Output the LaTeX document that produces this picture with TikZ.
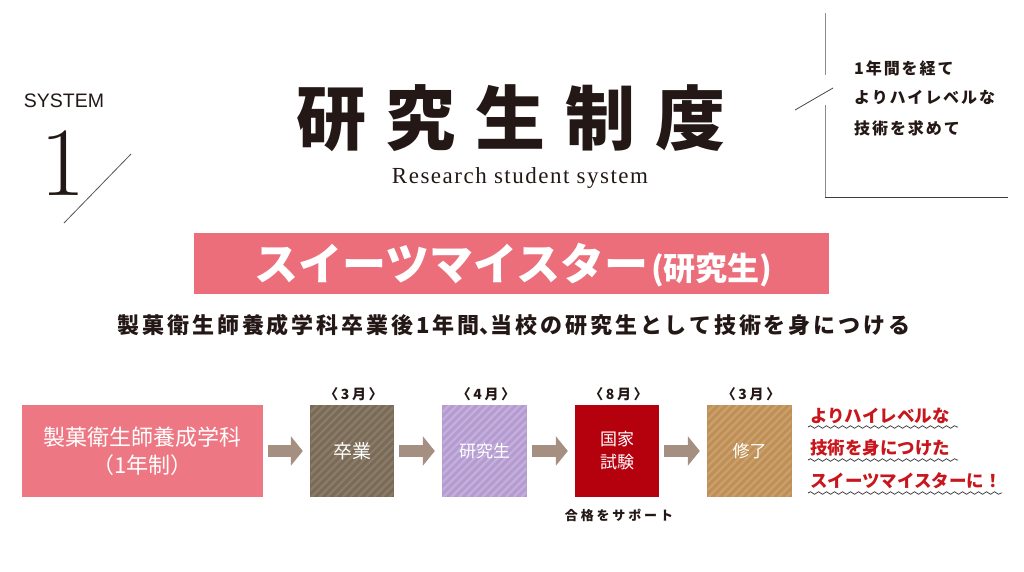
\documentclass[tikz,border=0pt]{standalone}
\usepackage{fontspec}
\newfontfamily\jp{Noto Sans CJK JP}
\newfontfamily\lsans{Liberation Sans}
\newfontfamily\lserif{Liberation Serif}[LetterSpace=6.5]
\usetikzlibrary{arrows.meta,decorations.pathmorphing,calc}
\definecolor{ink}{HTML}{231815}
\definecolor{pinkbox}{HTML}{ED7782}
\definecolor{banner}{HTML}{EB6E7A}
\definecolor{brownbase}{HTML}{7A6A58}
\definecolor{brownstripe}{HTML}{8B7B69}
\definecolor{lavbase}{HTML}{B59CD0}
\definecolor{lavstripe}{HTML}{C5AFDC}
\definecolor{exred}{HTML}{B5000E}
\definecolor{ochrebase}{HTML}{BE9058}
\definecolor{ochrestripe}{HTML}{CCA06A}
\definecolor{taupe}{HTML}{A58F80}
\definecolor{redtext}{HTML}{C8161D}
\definecolor{linegray}{HTML}{8A8A8A}
\definecolor{wavecol}{HTML}{333333}
\tikzset{
  flowbox/.style={draw=none, inner sep=0pt, minimum height=92pt, text=white, align=center},
  striped/.style 2 args={fill=#1, path picture={
      \clip ($(path picture bounding box.south west)+(0.7,-0.7)$) rectangle ($(path picture bounding box.north east)+(-0.7,0.7)$);
      \foreach \i in {0,...,26}{
        \draw[#2, line width=2.2pt] ($(path picture bounding box.south west)+(\i*7.8-100,0)$) -- ++(110,-110);
      }}},
  monthlab/.style={font=\jp\bfseries\fontsize{14}{14}\selectfont\addfontfeature{LetterSpace=18}, text=ink, inner sep=0pt, anchor=base},
  flowarrow/.style={draw=taupe, line width=12pt, -{Triangle[length=12pt,width=29pt]}, shorten <=5pt, shorten >=7pt},
  redline/.style={font=\jp\bfseries\fontsize{17.5}{17.5}\selectfont, text=redtext, inner sep=0pt, anchor=base west},
  wavy/.style={draw=wavecol, line width=0.7pt, decorate, decoration={snake, segment length=8pt, amplitude=1.3pt}},
  rtext/.style={font=\jp\bfseries\fontsize{16}{16}\selectfont\addfontfeature{LetterSpace=12}, text=ink, inner sep=0pt, anchor=base west}
}
\begin{document}
\begin{tikzpicture}[x=1pt,y=-1pt]
\useasboundingbox (0,0) rectangle (1024,571);

% left header
\node[font=\lsans\fontsize{19.5}{19.5}\selectfont, text=ink, inner sep=0pt, anchor=base] (sys) at (64,107.5) {SYSTEM};
\node[font=\fontsize{98}{98}\selectfont, text=ink, inner sep=0pt, text height=64pt, text depth=0pt, anchor=base] (one) at (63,195) {1};
\draw[ink!75, line width=0.8pt] (131,154) -- (64,223);

% title
\node[font=\jp\bfseries\fontsize{70}{70}\selectfont, text=ink, inner sep=0pt, anchor=base] (title) at (511,144)
  {研\hspace{20pt}究\hspace{20pt}生\hspace{20pt}制\hspace{20pt}度};
\node[font=\lserif\fontsize{23}{23}\selectfont, text=ink, inner sep=0pt, anchor=base] (sub) at (520,183) {Research student system};

% right corner box
\draw[linegray, line width=1pt] (825,13) -- (825,75);
\draw[linegray, line width=1pt] (825,105) -- (825,197);
\draw[ink!85, line width=1pt] (825,197) -- (1008,197);
\draw[ink!80, line width=0.8pt] (795,110) -- (833,88);
\node[rtext] (r1) at (854,74) {1年間を経て};
\node[rtext] (r2) at (854,103) {よりハイレベルな};
\node[rtext] (r3) at (854,134) {技術を求めて};

% banner
\fill[banner] (194,233) rectangle (829,294);
\node[text=white, inner sep=0pt, anchor=base west] (ban) at (254,280)
  {\jp\bfseries\fontsize{44}{44}\selectfont スイーツマイスター\hspace{3pt}\fontsize{32}{32}\selectfont (研究生)};
\node[font=\jp\bfseries\fontsize{22}{22}\selectfont\addfontfeature{LetterSpace=13.2}, text=ink, inner sep=0pt, anchor=base] (lead) at (514,333)
  {製菓衛生師養成学科卒業後1年間\makebox[11pt][l]{、}当校の研究生として技術を身につける};

% flow
\node[flowbox, fill=pinkbox, minimum width=241pt, font=\jp\fontsize{22}{28}\selectfont] (src) at (142.5,451)
  {製菓衛生師養成学科\\（1年制）};
\node[flowbox, striped={brownbase}{brownstripe}, minimum width=84pt, font=\jp\fontsize{19}{19}\selectfont] (b1) at (352,451) {卒業};
\node[flowbox, striped={lavbase}{lavstripe}, minimum width=85pt, font=\jp\fontsize{17}{17}\selectfont] (b2) at (484.5,451) {研究生};
\node[flowbox, fill=exred, minimum width=84pt, font=\jp\fontsize{17}{23}\selectfont] (b3) at (617,451) {国家\\試験};
\node[flowbox, striped={ochrebase}{ochrestripe}, minimum width=85pt, font=\jp\fontsize{17}{17}\selectfont] (b4) at (749.5,451) {修了};

\draw[flowarrow] (src) -- (b1);
\draw[flowarrow] (b1) -- (b2);
\draw[flowarrow] (b2) -- (b3);
\draw[flowarrow] (b3) -- (b4);

\node[monthlab] (m1) at ($(b1.north)+(1.5,-5)$) {〈3月〉};
\node[monthlab] (m2) at ($(b2.north)+(1.5,-5)$) {〈4月〉};
\node[monthlab] (m3) at ($(b3.north)+(1.5,-5)$) {〈8月〉};
\node[monthlab] (m4) at ($(b4.north)+(1.5,-5)$) {〈3月〉};
\node[monthlab, font=\jp\bfseries\fontsize{13}{13}\selectfont\addfontfeature{LetterSpace=22}] (sup) at ($(b3.south)+(2,23)$) {合格をサポート};

% red slogan
\node[redline] (s1) at (810,422) {よりハイレベルな};
\node[redline] (s2) at (810,454) {技術を身につけた};
\node[redline] (s3) at (810,487) {スイーツマイスターに！};
\coordinate (w1a) at (808,427); \coordinate (w1b) at (958,427);
\coordinate (w2a) at (808,460); \coordinate (w2b) at (958,460);
\coordinate (w3a) at (808,493); \coordinate (w3b) at (1002,493);
\draw[wavy] (w1a) -- (w1b);
\draw[wavy] (w2a) -- (w2b);
\draw[wavy] (w3a) -- (w3b);
\end{tikzpicture}
\end{document}
